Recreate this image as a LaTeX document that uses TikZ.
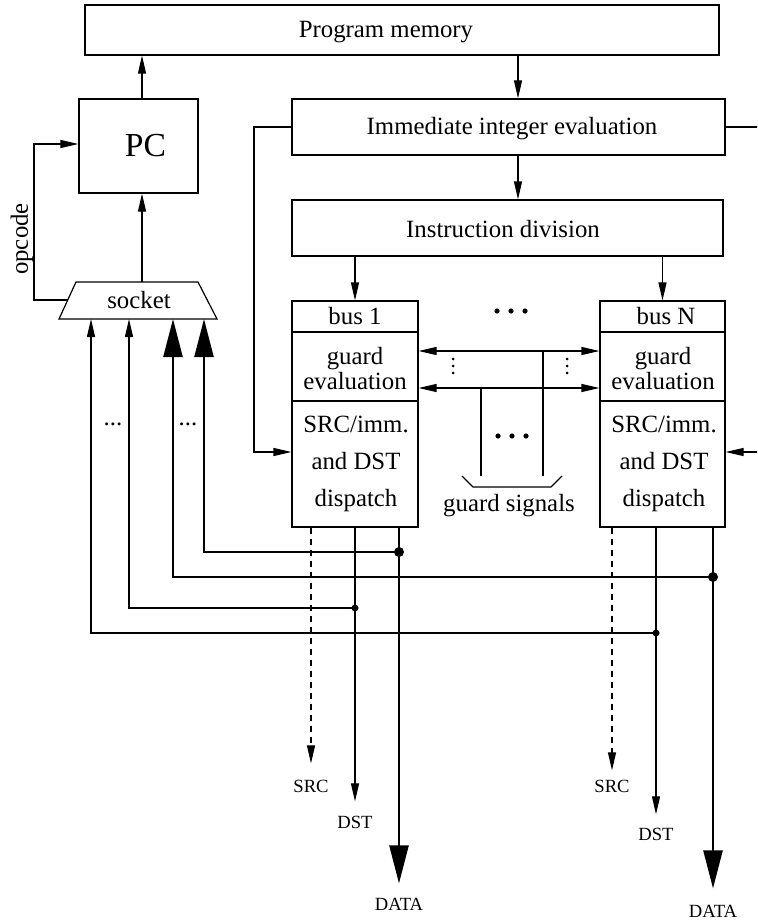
\documentclass[tikz,border=0pt]{standalone}
\usepackage{fontspec}
\setmainfont{Liberation Serif}
\usetikzlibrary{arrows.meta}
\begin{document}
\begin{tikzpicture}[x=0.5pt,y=-0.5pt,
  every node/.style={font=\fontsize{12.4}{15}\selectfont, inner sep=0pt},
  box/.style={draw, line width=0.6pt, rectangle},
  ln/.style={line width=0.6pt},
  bus/.style={line width=1.2pt},
  ar/.style={ln, -{Triangle[length=9pt,width=4pt]}},
  dar/.style={ln, {Triangle[length=9pt,width=4pt]}-{Triangle[length=9pt,width=4pt]}},
  bigar/.style={bus, -{Triangle[length=19pt,width=9.5pt]}},
  sig/.style={font=\fontsize{9.3}{11}\selectfont},
  dashline/.style={ln, dash pattern=on 3pt off 2.5pt},
  twoline/.style={align=center, font=\fontsize{12.4}{12.5}\selectfont},
  threeline/.style={align=center, font=\fontsize{12.4}{18.5}\selectfont},
]
\clip (0,0) rectangle (757,920);

% ---- top blocks ----
\node[box, minimum width=317pt, minimum height=25pt] (pm) at (402,30) {};
\node (pmtext) at (386,32) {Program memory};
\node[box, minimum width=59.5pt, minimum height=47pt,
      font=\fontsize{16.8}{20}\selectfont] (pc) at (138.5,146) {\hspace{7pt}PC};
\node[box, minimum width=216.5pt, minimum height=28pt] (iie) at (508.5,127) {};
\node (iietext) at (512,129) {Immediate integer evaluation};
\node[box, minimum width=215.5pt, minimum height=28pt] (idiv) at (507.5,228) {};
\node (idivtext) at (503,229) {Instruction division};

% ---- socket ----
\draw[ln] (76,282) -- (198,282) -- (217,319) -- (59,319) -- cycle;
\node (socket) at (139,300) {socket};
\coordinate (socktop) at (142,282);
\coordinate (sockleft) at (67.7,300);
\coordinate (s1) at (91,319);
\coordinate (s2) at (129,319);
\coordinate (s3) at (173,319);
\coordinate (s4) at (204,319);

% ---- bus blocks ----
\node[box, minimum width=63pt, minimum height=113pt] (b1) at (355,414) {};
\node[box, minimum width=62.5pt, minimum height=113pt] (bN) at (662.5,414) {};
\foreach \b in {b1,bN}{
  \draw[ln] (\b.west |- 0,332) -- (\b.east |- 0,332);
  \draw[ln] (\b.west |- 0,401) -- (\b.east |- 0,401);
}
\node (b1name) at (355,316) {bus 1};
\node[twoline] (b1guard) at (355,369) {guard\\evaluation};
\node[threeline] (b1disp) at (356,464) {SRC/imm.\\and DST\\dispatch};
\node (bNname) at (666,316) {bus N};
\node[twoline] (bNguard) at (663,369) {guard\\evaluation};
\node[threeline] (bNdisp) at (664,464) {SRC/imm.\\and DST\\dispatch};

% ---- control flow arrows ----
\draw[ar] (pc.north -| socktop) -- (pm.south -| socktop);
\draw[ar] (socktop) -- (pc.south -| socktop);
\draw[ar] (sockleft) -- (34,300) -- (34,144) -- (pc.west |- 0,144);
\node[rotate=90] (opcode) at (22,239) {opcode};
\draw[ar] (pm.south -| 518,0) -- (iie.north -| 518,0);
\draw[ar] (iie.south -| 518,0) -- (idiv.north -| 518,0);
\draw[ar] (idiv.south -| b1.north) -- (b1.north);
\draw[ar] (idiv.south -| bN.north) -- (bN.north);
\draw[ar] (iie.west) -- (254,127) -- (254,452) -- (b1.west |- 0,452);
\draw[ar] (iie.east) -- (790,127) -- (790,452) -- (bN.east |- 0,452);

% ---- guard signals between buses ----
\fill (497,311) circle[radius=1.3pt] (511,311) circle[radius=1.3pt] (525,311) circle[radius=1.3pt];
\draw[dar] (b1.east |- 0,351) -- (bN.west |- 0,351);
\draw[dar] (b1.east |- 0,388) -- (bN.west |- 0,388);
\foreach \x in {453,567}
  \fill (\x,359) circle[radius=0.75pt] (\x,366) circle[radius=0.75pt] (\x,373) circle[radius=0.75pt];
\draw[ln] (543,351) -- (543,476);
\draw[ln] (481,388) -- (481,476);
\fill (498,436) circle[radius=1.3pt] (512,436) circle[radius=1.3pt] (526,436) circle[radius=1.3pt];
\draw[ln] (462,476) -- (473,487) -- (551,487) -- (562,476);
\node (gsig) at (509,506) {guard signals};

% ---- output labels ----
\node[sig] (src1) at (311,786) {SRC};
\node[sig] (dst1) at (355,822) {DST};
\node[sig] (data1) at (399,904) {DATA};
\node[sig] (srcN) at (612,786) {SRC};
\node[sig] (dstN) at (656,834) {DST};
\node[sig] (dataN) at (713,911) {DATA};

% ---- bus outputs ----
\draw[dashline, -{Triangle[length=9pt,width=4pt]}] (b1.south -| src1) -- ([yshift=8pt]src1.north);
\draw[ar] (b1.south -| dst1) -- ([yshift=7pt]dst1.north);
\draw[bigar] (b1.south -| data1) -- ([yshift=7pt]data1.north);
\draw[dashline, -{Triangle[length=9pt,width=4pt]}] (bN.south -| srcN) -- ([yshift=4.5pt]srcN.north);
\draw[ar] (bN.south -| dstN) -- ([yshift=6.5pt]dstN.north);
\draw[bigar] (bN.south -| dataN) -- ([yshift=8pt]dataN.north);

% ---- feedback into the socket ----
\coordinate (j1) at (399,552);
\coordinate (j2) at (713,577);
\coordinate (j3) at (355,608);
\coordinate (j4) at (656,633);
\draw[bigar] (j1) -| (s4);
\draw[bigar] (j2) -| (s3);
\draw[ar] (j3) -| (s2);
\draw[ar] (j4) -| (s1);
\fill (j1) circle[radius=2.5pt] (j2) circle[radius=2.5pt];
\fill (j3) circle[radius=1.75pt] (j4) circle[radius=1.75pt];
\node (dots1) at (113,424) {...};
\node (dots2) at (188,424) {...};
\end{tikzpicture}
\end{document}
